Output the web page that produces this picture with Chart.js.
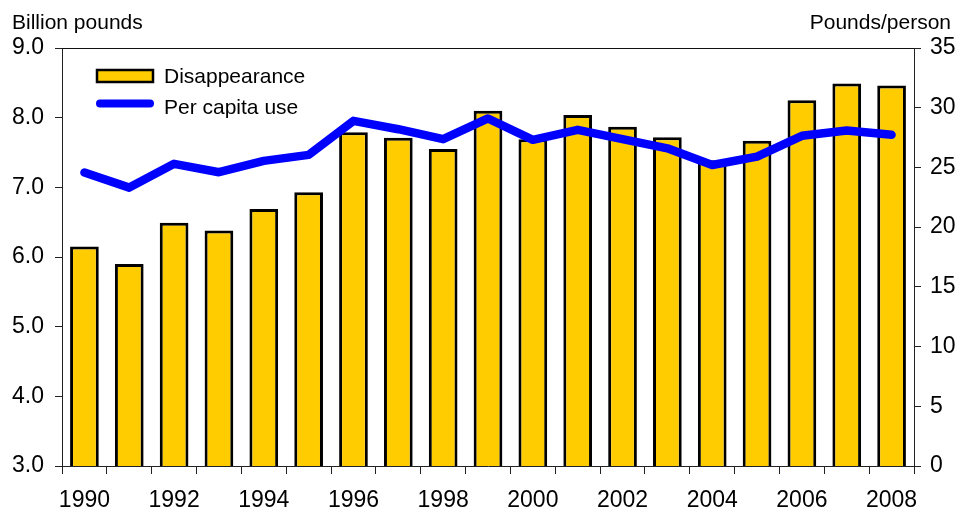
<!DOCTYPE html>
<html>
<head>
<meta charset="utf-8">
<script src="https://cdn.jsdelivr.net/npm/chart.js@4/dist/chart.umd.min.js"></script>
<style>
  html, body { margin: 0; padding: 0; background: #fff; }
  #wrap { width: 960px; height: 512px; position: relative; }
</style>
</head>
<body>
<div id="wrap"><canvas id="c" width="960" height="512"></canvas></div>
<script>
// Years on the horizontal axis
const years = ['1990','1991','1992','1993','1994','1995','1996','1997','1998','1999',
               '2000','2001','2002','2003','2004','2005','2006','2007','2008'];
// Total disappearance, billion pounds (left axis)
const disappearance = [6.15, 5.90, 6.49, 6.38, 6.69, 6.93, 7.79, 7.71, 7.55, 8.10,
                       7.69, 8.04, 7.87, 7.72, 7.39, 7.67, 8.25, 8.49, 8.46];
// Per capita use, pounds per person (right axis)
const perCapita = [24.57, 23.31, 25.30, 24.60, 25.55, 26.05, 28.90, 28.20, 27.37, 29.10,
                   27.31, 28.15, 27.37, 26.60, 25.20, 25.90, 27.65, 28.10, 27.73];
// Axis titles and legend entries
const leftTitle = 'Billion pounds';
const rightTitle = 'Pounds/person';
const barLabel = 'Disappearance';
const lineLabel = 'Per capita use';

const FONT = '"Liberation Sans", Arial, sans-serif';
const BAR_FILL = '#FFCC00';
const LINE_BLUE = '#0000FF';
const INK = '#000';

// Titles above each axis, a frame line along the top, and the inset legend
const decorations = {
  id: 'decorations',
  afterDraw(chart) {
    const ctx = chart.ctx;
    const a = chart.chartArea;
    ctx.save();
    // top frame line
    ctx.strokeStyle = '#111';
    ctx.lineWidth = 1;
    ctx.beginPath();
    ctx.moveTo(a.left, a.top + 0.5);
    ctx.lineTo(a.right, a.top + 0.5);
    ctx.stroke();

    // axis titles
    ctx.fillStyle = INK;
    ctx.font = '21px ' + FONT;
    ctx.textBaseline = 'alphabetic';
    ctx.textAlign = 'left';
    ctx.fillText(leftTitle, 12, 29);
    ctx.textAlign = 'right';
    ctx.fillText(rightTitle, 951, 29);

    // legend
    const lx = a.left + 35;
    ctx.fillStyle = BAR_FILL;
    ctx.fillRect(lx, 70, 56, 12);
    ctx.strokeStyle = INK;
    ctx.lineWidth = 2.5;
    ctx.strokeRect(lx, 70, 56, 12);

    ctx.strokeStyle = LINE_BLUE;
    ctx.lineWidth = 8;
    ctx.lineCap = 'round';
    ctx.beginPath();
    ctx.moveTo(lx + 3, 103.5);
    ctx.lineTo(lx + 53, 103.5);
    ctx.stroke();

    ctx.fillStyle = INK;
    ctx.font = '21px ' + FONT;
    ctx.textAlign = 'left';
    ctx.fillText(barLabel, lx + 67, 83);
    ctx.fillText(lineLabel, lx + 67, 114);
    ctx.restore();
  }
};

new Chart(document.getElementById('c'), {
  type: 'bar',
  data: {
    labels: years,
    datasets: [
      {
        type: 'line',
        label: lineLabel,
        data: perCapita,
        yAxisID: 'y1',
        borderColor: LINE_BLUE,
        borderWidth: 8.5,
        borderCapStyle: 'round',
        borderJoinStyle: 'round',
        pointRadius: 0,
        tension: 0,
        fill: false,
        order: 0
      },
      {
        type: 'bar',
        label: barLabel,
        data: disappearance,
        yAxisID: 'y',
        backgroundColor: BAR_FILL,
        borderColor: INK,
        borderWidth: 3,
        borderSkipped: 'bottom',
        categoryPercentage: 1.0,
        barPercentage: 0.64,
        order: 1
      }
    ]
  },
  options: {
    responsive: false,
    animation: false,
    devicePixelRatio: 1,
    layout: { padding: { top: 48, left: 0, right: 0, bottom: 0 } },
    plugins: {
      legend: { display: false },
      tooltip: { enabled: false },
      title: { display: false }
    },
    scales: {
      x: {
        offset: true,
        grid: {
          offset: true,
          drawOnChartArea: false,
          drawTicks: true,
          tickLength: 8,
          color: '#222'
        },
        border: { display: true, color: '#222', width: 1 },
        ticks: {
          autoSkip: false,
          maxRotation: 0,
          padding: 13,
          color: INK,
          font: { family: FONT, size: 23 },
          callback: function (v, i) { return i % 2 === 0 ? years[i] : ''; }
        },
        afterFit(scale) { scale.height = 46; }
      },
      y: {
        position: 'left',
        min: 3,
        max: 9,
        grid: {
          drawOnChartArea: false,
          drawTicks: true,
          tickLength: 7,
          color: '#222'
        },
        border: { display: true, color: '#222', width: 1 },
        ticks: {
          stepSize: 1,
          padding: 11,
          color: INK,
          font: { family: FONT, size: 23 },
          callback: function (v) { return Number(v).toFixed(1); }
        },
        afterFit(scale) { scale.width = 62; }
      },
      y1: {
        position: 'right',
        min: 0,
        max: 35,
        grid: {
          drawOnChartArea: false,
          drawTicks: true,
          tickLength: 7,
          color: '#222'
        },
        border: { display: true, color: '#222', width: 1 },
        ticks: {
          stepSize: 5,
          padding: 9,
          color: INK,
          font: { family: FONT, size: 23 }
        },
        afterFit(scale) { scale.width = 46; }
      }
    }
  },
  plugins: [decorations]
});
</script>
</body>
</html>
